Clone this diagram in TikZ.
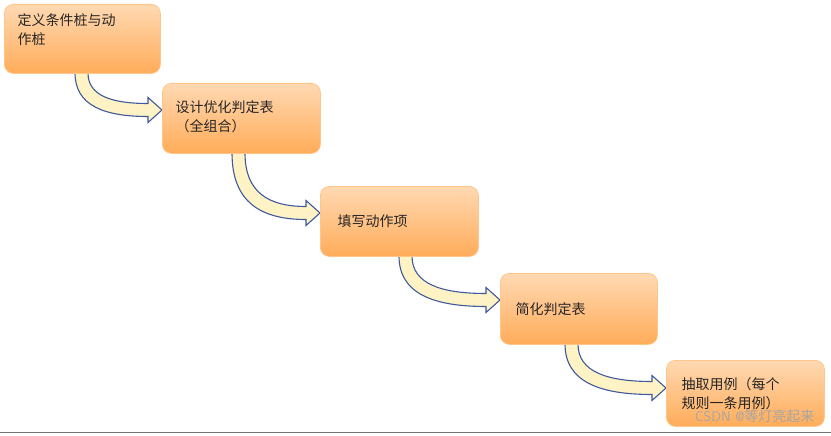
\documentclass[tikz,border=0pt]{standalone}
\usepackage{fontspec}
\newfontfamily\cjk{Noto Sans CJK SC}
\begin{document}
\begin{tikzpicture}[x=1pt,y=-1pt,
  box/.style={draw=orange!45!white,line width=0.8pt,rounded corners=9pt,top color=orange!30!white,bottom color=orange!65!white,inner sep=0pt},
  lbl/.style={anchor=west,align=left,font=\cjk\fontsize{14}{19}\selectfont,text=black!85},
  barrow/.style={draw={rgb,255:red,63;green,90;blue,155},line width=1.1pt,fill={rgb,255:red,255;green,242;blue,196},line join=miter}]
\useasboundingbox (0,0) rectangle (831,436);
\newcommand\barw[4]{%
  \pgfmathsetmacro\hx{#3-14}%
  \pgfmathsetmacro\yo{#4+6.5}\pgfmathsetmacro\yi{#4-6.5}%
  \pgfmathsetmacro\xi{#1+13}%
  \pgfmathsetmacro\co{#2+0.75*(\yo-#2)}\pgfmathsetmacro\ci{#2+0.75*(\yi-#2)}%
  \pgfmathsetmacro\dxo{#1+0.4*(\hx-#1)}\pgfmathsetmacro\dxi{\xi+0.4*(\hx-\xi)}%
  \draw[barrow] (#1,#2) .. controls (#1,\co) and (\dxo,\yo) .. (\hx,\yo)
    -- (\hx,#4+12.5) -- (#3,#4) -- (\hx,#4-12.5) -- (\hx,\yi)
    .. controls (\dxi,\yi) and (\xi,\ci) .. (\xi,#2) -- cycle;}
\barw{75}{73}{162}{110}
\barw{232}{153}{320}{213}
\barw{399}{256}{500}{300}
\barw{565}{344}{666}{388}
\node[box,minimum width=156pt,minimum height=69pt,anchor=north west] (b1) at (4,4) {};
\node[box,minimum width=158pt,minimum height=70pt,anchor=north west] (b2) at (162,83) {};
\node[box,minimum width=158pt,minimum height=70pt,anchor=north west] (b3) at (320,186) {};
\node[box,minimum width=157pt,minimum height=71pt,anchor=north west] (b4) at (500,273) {};
\node[box,minimum width=158pt,minimum height=66pt,anchor=north west] (b5) at (666,360) {};
\node[lbl] (t1) at (14,30) {定义条件桩与动\\作桩};
\node[lbl] (t2) at (172,117) {设计优化判定表\\（全组合）};
\node[lbl] (t3) at (334,221) {填写动作项};
\node[lbl] (t4) at (512,309) {简化判定表};
\node[lbl] (t5) at (678,394) {抽取用例（每个\\规则一条用例）};
\node[anchor=east,font=\sffamily\fontsize{14}{16}\selectfont,text=black!35] (wm) at (818,416) {CSDN @{\cjk 等灯亮起来}};
\draw[black!55,line width=1pt] (0,432) -- (831,432);
\end{tikzpicture}
\end{document}
